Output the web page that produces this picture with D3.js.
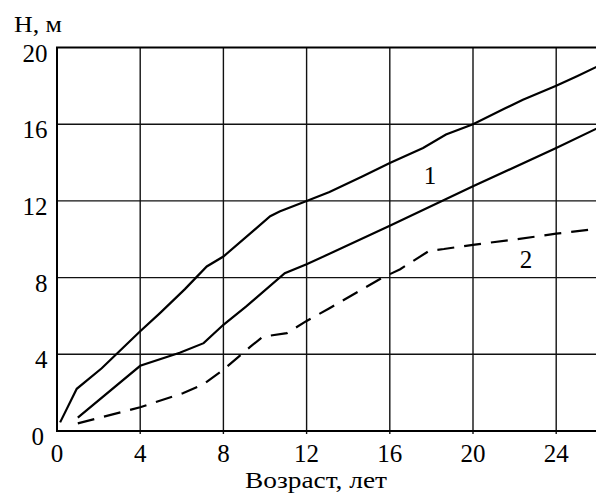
<!DOCTYPE html>
<html>
<head>
<meta charset="utf-8">
<script src="https://cdn.jsdelivr.net/npm/d3@7"></script>
<style>
  body { margin: 0; background: #fff; }
  svg { display: block; font-family: "Liberation Serif", "DejaVu Serif", serif; }
</style>
</head>
<body>
<div id="chart"></div>
<script>
'use strict';

// tick values
var xTicks = [0, 4, 8, 12, 16, 20, 24];
var yTicks = [0, 4, 8, 12, 16, 20];

// curve 1, upper branch (age, height)
var upperAge = [0.15, 0.95, 2.15, 4, 4.95, 6.15, 7.2, 8, 10.25, 10.7, 12, 13.1, 14.7, 16, 17.6, 18.7, 20, 21.5, 22.4, 24, 25, 26];
var upperH   = [0.45, 2.2, 3.27, 5.2, 6.15, 7.4, 8.58, 9.1, 11.2, 11.45, 12, 12.46, 13.28, 13.98, 14.76, 15.46, 16, 16.8, 17.28, 18, 18.5, 19.02];

// curve 1, lower branch
var lowerAge = [1.0, 4, 5.9, 7.05, 8, 9.1, 10.95, 12, 13.1, 16, 20, 24, 26];
var lowerH   = [0.7, 3.4, 4.08, 4.58, 5.54, 6.5, 8.23, 8.7, 9.24, 10.7, 12.76, 14.76, 15.8];

// curve 2 (dashed)
var dashAge = [1.0, 4, 6.05, 7.05, 8, 9.3, 9.9, 11.05, 12, 13.1, 15.6, 16.5, 17.9, 18.6, 20, 22.1, 24, 26];
var dashH   = [0.4, 1.24, 1.97, 2.45, 3.2, 4.4, 4.92, 5.1, 5.74, 6.4, 7.97, 8.44, 9.4, 9.49, 9.71, 10.0, 10.29, 10.55];

var W = 596, H = 493;
var plotLeft = 57, plotTop = 47.5, plotBottom = 431;

var svg = d3.select('#chart').append('svg')
  .attr('width', W)
  .attr('height', H);

var x = d3.scaleLinear().domain([0, 26]).range([plotLeft, plotLeft + 26 * 20.8]);
var y = d3.scaleLinear().domain([0, 20]).range([plotBottom, plotTop]);

// grid
svg.append('g').selectAll('line')
  .data(xTicks.slice(1))
  .enter().append('line')
    .attr('x1', d => x(d)).attr('x2', d => x(d))
    .attr('y1', plotTop).attr('y2', plotBottom + 3)
    .attr('stroke', '#111').attr('stroke-width', 1.4);

svg.append('g').selectAll('line')
  .data(yTicks.slice(1, -1))
  .enter().append('line')
    .attr('x1', plotLeft).attr('x2', W)
    .attr('y1', d => y(d)).attr('y2', d => y(d))
    .attr('stroke', '#111').attr('stroke-width', 1.4);

// frame
svg.append('path')
  .attr('d', 'M' + W + ',' + y(20) + 'H' + plotLeft + 'V' + y(0) + 'H' + W)
  .attr('fill', 'none')
  .attr('stroke', '#000')
  .attr('stroke-width', 2);

// axis labels
svg.append('g').selectAll('text')
  .data(xTicks)
  .enter().append('text')
    .attr('x', d => x(d))
    .attr('y', 462)
    .attr('text-anchor', 'middle')
    .attr('font-size', 25)
    .text(d => d);

svg.append('g').selectAll('text')
  .data(yTicks)
  .enter().append('text')
    .attr('x', d => d === 0 ? 44 : 47.5)
    .attr('y', d => d === 0 ? 445 : y(d) + 14)
    .attr('text-anchor', 'end')
    .attr('font-size', 25)
    .text(d => d);

svg.append('text')
  .attr('x', 14).attr('y', 32)
  .attr('font-size', 24)
  .attr('textLength', 48)
  .attr('lengthAdjust', 'spacingAndGlyphs')
  .text('H, м');

svg.append('text')
  .attr('x', 245).attr('y', 488)
  .attr('font-size', 24)
  .attr('textLength', 142)
  .attr('lengthAdjust', 'spacingAndGlyphs')
  .text('Возраст, лет');

// curves
var line = d3.line().x(d => x(d[0])).y(d => y(d[1]));

function drawCurve (ages, hs, dash) {
  svg.append('path')
    .datum(d3.zip(ages, hs))
    .attr('d', line)
    .attr('fill', 'none')
    .attr('stroke', '#000')
    .attr('stroke-width', 2.2)
    .attr('stroke-dasharray', dash);
}

drawCurve(upperAge, upperH, null);
drawCurve(lowerAge, lowerH, null);
drawCurve(dashAge, dashH, '17,10');

// curve numbers
svg.append('text')
  .attr('x', x(17.93)).attr('y', y(12.9))
  .attr('text-anchor', 'middle')
  .attr('font-size', 25)
  .text('1');

svg.append('text')
  .attr('x', x(22.55)).attr('y', y(8.5))
  .attr('text-anchor', 'middle')
  .attr('font-size', 25)
  .text('2');
</script>
</body>
</html>
